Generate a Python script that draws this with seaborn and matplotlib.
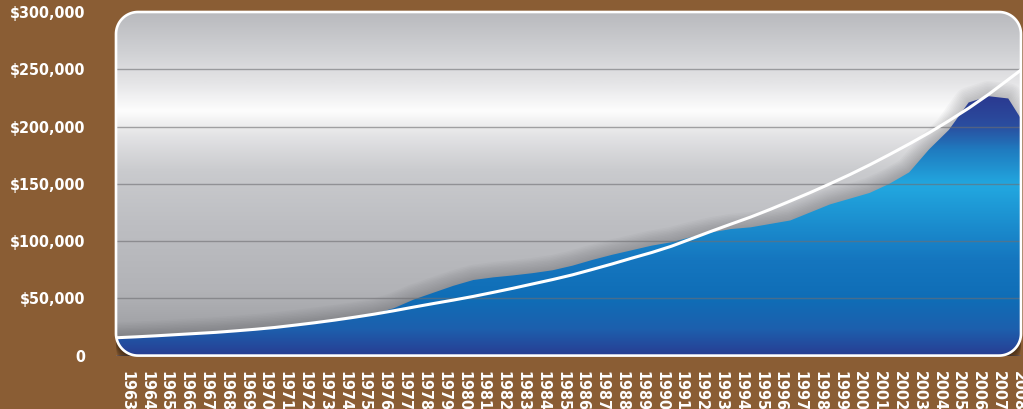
import numpy as np
import matplotlib
matplotlib.use('Agg')
import matplotlib.pyplot as plt
import seaborn as sns
from matplotlib import font_manager
from matplotlib.colors import LinearSegmentedColormap
from matplotlib.patches import Polygon, PathPatch
from matplotlib.path import Path
from matplotlib.transforms import ScaledTranslation

# data (values in $ thousands)
years = list(range(1963, 2010))
year_labels = [str(y) for y in range(1963, 2009)]
price = [15.6, 16.4, 17.3, 18.3, 19.3, 20.3, 21.6, 23.0, 24.6, 26.6, 28.7, 31.0, 33.5, 36.5,
         41.5, 49, 55, 61, 66, 68.3, 70, 72, 74.5, 78.5, 83.5, 88, 92, 96, 99, 103.5, 107.5,
         110.5, 112, 115, 118, 125, 132, 137, 142, 150, 160, 180, 197, 221, 226.5, 224.5, 197]
trend = [15.6, 16.4, 17.3, 18.3, 19.3, 20.3, 21.6, 23.0, 24.6, 26.6, 28.7, 31.0, 33.5, 36.2,
         39.2, 42.4, 45.5, 48.5, 51.7, 55.2, 58.8, 62.6, 66.4, 70.5, 75.2, 80.0, 85.1, 90.0,
         95.5, 102, 108.5, 114.8, 121, 127.8, 135, 142.3, 150, 158, 166.5, 175.5, 184.8, 194.5,
         205, 216, 228, 241, 254]
y_ticks = [0, 50000, 100000, 150000, 200000, 250000, 300000]

BROWN = '#8a5d34'
W_PX, H_PX = 1023, 409


def rounded_rect(w_px, h_px, r_px, n=20):
    rx, ry = r_px / w_px, r_px / h_px
    pts = []
    for cx, cy, a0, a1 in [(1 - rx, ry, -90, 0), (1 - rx, 1 - ry, 0, 90),
                           (rx, 1 - ry, 90, 180), (rx, ry, 180, 270)]:
        th = np.radians(np.linspace(a0, a1, n))
        pts += list(zip(cx + rx * np.cos(th), cy + ry * np.sin(th)))
    return np.array(pts)


def hole_path(inner, x0, x1, y0, y1):
    outer = np.array([(x0, y0), (x1, y0), (x1, y1), (x0, y1), (x0, y0)])
    inn = np.vstack([inner[::-1], inner[-1:]])
    verts = np.vstack([outer, inn])
    codes = ([Path.MOVETO] + [Path.LINETO] * 3 + [Path.CLOSEPOLY] +
             [Path.MOVETO] + [Path.LINETO] * (len(inner) - 1) + [Path.CLOSEPOLY])
    return Path(verts, codes)


def vgrad(stops):
    cmap = LinearSegmentedColormap.from_list('g', stops)
    return cmap(np.linspace(0, 1, 500))[:, None, :]


def narrow_bold_font():
    # look for any installed condensed / narrow bold face
    best = None
    for f in font_manager.fontManager.ttflist:
        narrow = ('Narrow' in f.name or 'Condensed' in f.name or
                  'condensed' in str(f.stretch) or 'Condensed' in f.fname)
        if not narrow:
            continue
        w = f.weight if isinstance(f.weight, int) else 700 if 'bold' in str(f.weight) else 400
        score = -abs(w - 700)
        if best is None or score > best[0]:
            best = (score, f.fname)
    return best[1] if best else None


sns.set_theme(style='white')
plt.rcParams['font.family'] = ['Liberation Sans Narrow', 'DejaVu Sans']

fname = narrow_bold_font()
if fname:
    ylab_fp = font_manager.FontProperties(fname=fname, size=11.5)
    xlab_fp = font_manager.FontProperties(fname=fname, size=11.5)
else:
    ylab_fp = font_manager.FontProperties(family='DejaVu Sans', weight='bold', size=10)
    xlab_fp = font_manager.FontProperties(family='DejaVu Sans', weight='bold', size=9)

fig = plt.figure(figsize=(W_PX / 100, H_PX / 100), dpi=100)
fig.patch.set_facecolor(BROWN)
left, right, top, bottom = 116, 1021, 12, 355.6
ax = fig.add_axes([left / W_PX, 1 - bottom / H_PX, (right - left) / W_PX, (bottom - top) / H_PX])
ax.set_facecolor('none')
for s in ax.spines.values():
    s.set_visible(False)

x0 = 1963 - 0.8 / 19.81
x1 = 1963 + (right - 116.8) / 19.81
ymax = 300000
ext = (x0, x1, 0, ymax)
w_ax, h_ax = right - left, bottom - top
rr = rounded_rect(w_ax, h_ax, 22)
box_clip = Polygon(rr, closed=True, transform=ax.transAxes)

# shadow below the panel
shadow_clip = PathPatch(hole_path(rr, -0.05, 1.05, -0.3, 1.05), transform=ax.transAxes)
for k in range(1, 15):
    sh = Polygon(rr, closed=True, facecolor='#1a0f05', edgecolor='none', alpha=0.055,
                 transform=ax.transAxes + ScaledTranslation(0, -k / 100, fig.dpi_scale_trans),
                 zorder=6)
    ax.add_patch(sh)
    sh.set_clip_path(shadow_clip)

# grey metallic background
gray = vgrad([(0.0, '#7f8084'), (0.016, '#8c8d91'), (0.075, '#a0a1a5'), (0.19, '#b2b3b7'),
              (0.395, '#bebfc3'), (0.54, '#cacbce'), (0.642, '#e3e3e5'), (0.715, '#fdfdfd'),
              (0.80, '#e4e4e6'), (0.89, '#cfd0d3'), (1.0, '#b9babe')])
ax.imshow(gray, extent=ext, origin='lower', aspect='auto', zorder=0, interpolation='bilinear')

price_vals = np.array(price) * 1000
trend_vals = np.array(trend) * 1000

# soft shadow along the top of the area
for i in range(10):
    ax.plot(years, price_vals, color='#5a5b60', lw=2 + 2.2 * i, alpha=0.04, zorder=1.5,
            solid_joinstyle='round', solid_capstyle='butt')

# blue gradient area
area = ax.fill_between(years, price_vals, 0, color='none', lw=0)
blue = vgrad([(0.0, '#283d92'), (0.075, '#1d5fad'), (0.162, '#0f6db6'), (0.278, '#1576bf'),
              (0.395, '#1c90d0'), (0.497, '#22a8e0'), (0.598, '#1f7cc0'), (0.671, '#2a4d9f'),
              (0.758, '#2b3990'), (1.0, '#2b3990')])
im = ax.imshow(blue, extent=ext, origin='lower', aspect='auto', zorder=2, interpolation='bilinear')
im.set_clip_path(area.get_paths()[0], ax.transData)

for v in y_ticks[1:-1]:
    ax.axhline(v, color='#6e6e72', lw=1, alpha=0.6, zorder=4)

# brown corners outside the rounded panel
ax.add_patch(PathPatch(hole_path(rr, 0, 1, 0, 1), facecolor=BROWN, edgecolor='none',
                       transform=ax.transAxes, zorder=5))

# trend line
sns.lineplot(x=years, y=trend_vals, color='white', linewidth=2.2, ax=ax, zorder=7)
ax.lines[-1].set_clip_path(box_clip)

ax.add_patch(Polygon(rr, closed=True, fill=False, edgecolor='white', lw=1.9,
                     transform=ax.transAxes, zorder=8, clip_on=False))

ax.set_xlim(x0, x1)
ax.set_ylim(0, ymax)
ax.set_yticks(y_ticks, labels=['0' if v == 0 else f'${v:,.0f}' for v in y_ticks])
ax.set_xticks([int(y) + 0.5 for y in year_labels], labels=year_labels, rotation=-90)
for t in ax.get_yticklabels():
    t.set_fontproperties(ylab_fp)
    t.set_color('white')
for t in ax.get_xticklabels():
    t.set_fontproperties(xlab_fp)
    t.set_color('white')
ax.tick_params(axis='y', length=0, pad=22)
ax.tick_params(axis='x', length=0, pad=11)
ax.set_xlabel('')
ax.set_ylabel('')

fig.savefig('out.png', dpi=100, facecolor=BROWN)
